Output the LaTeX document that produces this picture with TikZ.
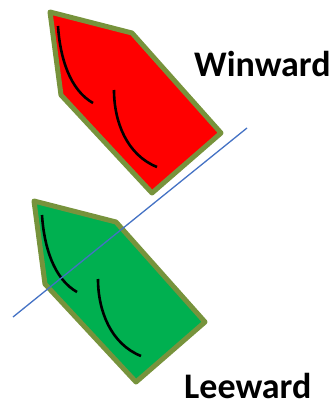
\documentclass[tikz,border=0pt]{standalone}
\usepackage{fontspec}
\newfontfamily\labelfont{Carlito}
\definecolor{hullborder}{HTML}{77933C}
\definecolor{boatgreen}{HTML}{00B050}
\definecolor{lineblue}{HTML}{4472C4}
\begin{document}
\begin{tikzpicture}[x=1pt,y=-1pt,
  hull/.style={draw=hullborder, line width=5pt, line join=round},
  sail/.style={draw=black, line width=2.6pt},
  boatlabel/.style={inner sep=0pt, anchor=base west, font=\labelfont\bfseries\fontsize{36}{40}\selectfont}]
\useasboundingbox (0,0) rectangle (335,404);
\foreach \col/\dx/\dy in {red/0/0, boatgreen/-16/189} {
  \begin{scope}[shift={(\dx,\dy)}]
  \draw[hull, fill=\col] (50,12) -- (132,33) -- (221,133) -- (152,193) -- (61,95) -- cycle;
  \draw[sail] (58,26) .. controls (60,58) and (70,90) .. (93,103);
  \draw[sail] (114,90) .. controls (114,122) and (127,155) .. (157,167);
  \end{scope}
}
\coordinate (lineS) at (13,317);
\coordinate (lineE) at (247,128);
\draw[lineblue, line width=1.3pt] (lineS) -- (lineE);
\node[boatlabel] (winward) at (194,76) {Winward};
\node[boatlabel] (leeward) at (184,398) {Leeward};
\end{tikzpicture}
\end{document}
